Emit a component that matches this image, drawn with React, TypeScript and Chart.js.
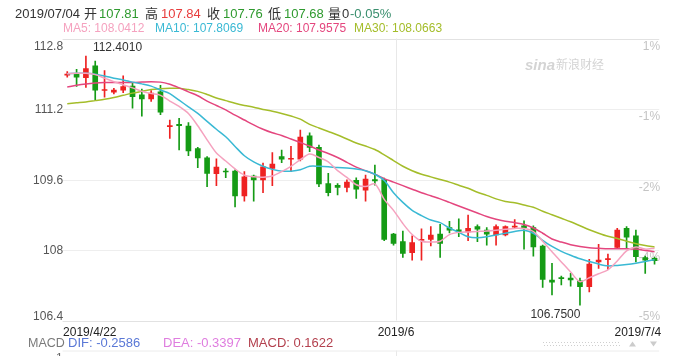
import React, { useEffect, useRef } from "react";
import { Chart, registerables } from "chart.js";

Chart.register(...registerables);

// ---------- data ----------
const dates = [
  "2019/4/22", "2019/4/23", "2019/4/24", "2019/4/25", "2019/4/26", "2019/4/27", "2019/4/29", "2019/4/30",
  "2019/5/1", "2019/5/2", "2019/5/3", "2019/5/4", "2019/5/6", "2019/5/7", "2019/5/8", "2019/5/9",
  "2019/5/10", "2019/5/11", "2019/5/13", "2019/5/14", "2019/5/15", "2019/5/16", "2019/5/17", "2019/5/18",
  "2019/5/20", "2019/5/21", "2019/5/22", "2019/5/23", "2019/5/24", "2019/5/25", "2019/5/27", "2019/5/28",
  "2019/5/29", "2019/5/30", "2019/5/31", "2019/6/1", "2019/6/3", "2019/6/4", "2019/6/5", "2019/6/6",
  "2019/6/7", "2019/6/8", "2019/6/10", "2019/6/11", "2019/6/12", "2019/6/13", "2019/6/14", "2019/6/15",
  "2019/6/17", "2019/6/18", "2019/6/19", "2019/6/20", "2019/6/21", "2019/6/22", "2019/6/24", "2019/6/25",
  "2019/6/26", "2019/6/27", "2019/6/28", "2019/6/29", "2019/7/1", "2019/7/2", "2019/7/3", "2019/7/4",
];

const opens = [
  111.97, 112.01, 111.91, 112.18, 111.62, 111.58, 111.63, 111.72, 111.52, 111.43,
  111.59, 110.80, 110.85, 110.81, 110.30, 110.09, 109.73, 109.79, 109.79, 109.23,
  109.68, 109.59, 109.85, 110.12, 110.06, 110.06, 110.59, 110.33, 109.51, 109.47,
  109.42, 109.58, 109.36, 109.60, 109.60, 108.36, 108.19, 107.94, 108.22, 108.24,
  108.36, 108.51, 108.46, 108.41, 108.53, 108.45, 108.34, 108.34, 108.52, 108.55,
  108.51, 108.09, 107.32, 107.37, 107.36, 107.30, 107.17, 107.73, 107.78, 108.06,
  108.49, 108.32, 107.83, 107.81,
];
const highs = [
  112.05, 112.10, 112.401, 112.29, 112.07, 111.67, 111.95, 111.80, 111.65, 111.62,
  111.74, 110.95, 110.99, 110.89, 110.33, 110.12, 110.07, 109.85, 109.82, 109.78,
  109.70, 109.97, 110.21, 110.27, 110.35, 110.72, 110.66, 110.38, 109.74, 109.51,
  109.59, 109.64, 109.70, 109.93, 109.63, 108.38, 108.43, 108.32, 108.48, 108.53,
  108.58, 108.65, 108.71, 108.79, 108.57, 108.51, 108.57, 108.55, 108.69, 108.66,
  108.55, 108.11, 107.70, 107.41, 107.47, 107.36, 107.79, 108.13, 107.91, 108.49,
  108.53, 108.45, 107.86, 107.84,
];
const lows = [
  111.92, 111.71, 111.69, 111.40, 111.47, 111.54, 111.57, 111.22, 111.04, 111.37,
  111.07, 110.53, 110.27, 110.14, 109.87, 109.44, 109.46, 109.64, 108.98, 109.11,
  109.11, 109.30, 109.46, 109.98, 109.78, 110.02, 110.23, 109.44, 109.23, 109.25,
  109.32, 109.17, 109.11, 109.47, 108.21, 108.11, 107.83, 107.77, 107.77, 108.09,
  107.83, 108.39, 108.30, 108.21, 108.19, 108.11, 108.11, 108.32, 108.49, 108.02,
  107.86, 107.15, 106.98, 107.21, 107.18, 106.75, 107.05, 107.58, 107.56, 108.04,
  108.04, 107.73, 107.47, 107.68,
];
const closes = [
  111.99, 111.92, 112.12, 111.63, 111.64, 111.63, 111.71, 111.48, 111.43, 111.56,
  111.13, 110.82, 110.82, 110.25, 110.09, 109.74, 109.88, 109.77, 109.23, 109.66,
  109.59, 109.89, 109.95, 110.06, 110.08, 110.56, 110.33, 109.50, 109.30, 109.42,
  109.54, 109.38, 109.61, 109.57, 108.24, 108.15, 107.92, 108.17, 108.24, 108.34,
  108.15, 108.45, 108.41, 108.49, 108.47, 108.36, 108.53, 108.53, 108.54, 108.50,
  108.07, 107.33, 107.27, 107.35, 107.32, 107.17, 107.68, 107.77, 107.80, 108.45,
  108.29, 107.85, 107.77, 107.76,
];

const ma5 = [
  112.00, 112.01, 112.01, 111.98, 111.90, 111.82, 111.75, 111.68, 111.60, 111.55,
  111.51, 111.38, 111.26, 111.10, 110.82, 110.50, 110.20, 110.02, 109.84, 109.70,
  109.66, 109.65, 109.68, 109.78, 109.90, 110.05, 110.18, 110.10, 110.00, 109.80,
  109.65, 109.48, 109.44, 109.50, 109.15, 108.90, 108.60, 108.35, 108.20, 108.18,
  108.20, 108.35, 108.40, 108.41, 108.42, 108.43, 108.45, 108.47, 108.49, 108.49,
  108.42, 108.20, 107.96, 107.73, 107.50, 107.28, 107.37, 107.46, 107.55, 107.75,
  107.98, 108.07, 108.02, 108.04,
];
const ma10 = [
  112.00, 112.01, 112.01, 111.99, 111.95, 111.90, 111.86, 111.81, 111.77, 111.72,
  111.63, 111.55, 111.40, 111.25, 111.10, 110.92, 110.74, 110.57, 110.35, 110.14,
  110.00, 109.90, 109.83, 109.79, 109.79, 109.82, 109.90, 109.90, 109.89, 109.87,
  109.86, 109.84, 109.80, 109.72, 109.58, 109.30, 109.08, 108.90, 108.78, 108.68,
  108.62, 108.50, 108.40, 108.30, 108.28, 108.30, 108.34, 108.38, 108.42, 108.45,
  108.38, 108.22, 108.08, 107.97, 107.88, 107.80, 107.74, 107.68, 107.64, 107.65,
  107.67, 107.70, 107.74, 107.78,
];
const ma20 = [
  111.70, 111.74, 111.77, 111.79, 111.80, 111.80, 111.80, 111.80, 111.81, 111.82,
  111.81, 111.76, 111.68, 111.59, 111.50, 111.38, 111.28, 111.18, 111.06, 110.95,
  110.84, 110.74, 110.66, 110.60, 110.52, 110.44, 110.36, 110.27, 110.19, 110.10,
  109.99, 109.88, 109.80, 109.72, 109.62, 109.54, 109.46, 109.38, 109.30, 109.23,
  109.16, 109.08, 109.00, 108.92, 108.84, 108.76, 108.70, 108.65, 108.62, 108.58,
  108.50, 108.38, 108.25, 108.18, 108.12, 108.08, 108.05, 108.04, 108.03, 108.03,
  108.03, 108.02, 107.99, 107.96,
];
const ma30 = [
  111.32, 111.34, 111.36, 111.39, 111.42, 111.46, 111.51, 111.56, 111.60, 111.64,
  111.66, 111.67, 111.67, 111.64, 111.60, 111.53, 111.45, 111.39, 111.33, 111.28,
  111.24, 111.19, 111.15, 111.10, 111.04, 110.97, 110.85, 110.77, 110.69, 110.61,
  110.52, 110.43, 110.36, 110.28, 110.16, 110.03, 109.90, 109.80, 109.72, 109.66,
  109.60, 109.54, 109.47, 109.40, 109.31, 109.24, 109.16, 109.10, 109.07, 109.02,
  108.97, 108.88, 108.80, 108.72, 108.64, 108.55, 108.46, 108.38, 108.31, 108.26,
  108.20, 108.14, 108.10, 108.07,
];

const yTicks = [112.8, 111.2, 109.6, 108, 106.4];
const yTickLabels = ["112.8", "111.2", "109.6", "108", "106.4"];
const pctLabels = ["1%", "-1%", "-2%", "-4%", "-5%"];
const xTickIndex = [0, 35, 63];
const xTickLabels = ["2019/4/22", "2019/6", "2019/7/4"];

const headerDate = "2019/07/04";
const headerNames = ["开", "高", "收", "低", "量"];
const headerValues = ["107.81", "107.84", "107.76", "107.68", "0"];
const headerChange = "-0.05%";
const maNames = ["MA5", "MA10", "MA20", "MA30"];
const maValues = ["108.0412", "107.8069", "107.9575", "108.0663"];
const macdNames = ["DIF", "DEA", "MACD"];
const macdValues = ["-0.2586", "-0.3397", "0.1622"];

// ---------- styles ----------
const FONT = "'Liberation Sans', Arial, 'Noto Sans CJK SC', sans-serif";
const RED = "#ee2222";
const GREEN = "#159b15";
const TXT_GREEN = "#2f9a2f";
const TXT_RED = "#e83c3c";
const MA_COLORS = ["#f5a2bf", "#3ab9d4", "#e4467e", "#a4bd2a"];
const MACD_COLORS = ["#5a78d6", "#df7ddf", "#b3404e"];

const up = closes.map((c, i) => c >= opens[i]);
const candleColors = up.map((u) => (u ? RED : GREEN));

const decor = {
  id: "decor",
  beforeDatasetsDraw(chart: any) {
    const ctx: CanvasRenderingContext2D = chart.ctx;
    const { left, right, top, bottom } = chart.chartArea;
    const ys = chart.scales.y;
    const xs = chart.scales.x;
    ctx.save();
    // horizontal grid
    yTicks.forEach((v, k) => {
      const py = Math.round(ys.getPixelForValue(v)) + 0.5;
      ctx.strokeStyle = k === 0 || k === yTicks.length - 1 ? "#e2e2e2" : "#eeeeee";
      ctx.lineWidth = 1;
      ctx.beginPath();
      ctx.moveTo(left, py);
      ctx.lineTo(right, py);
      ctx.stroke();
    });
    // vertical grid at month boundary
    const gx = Math.round(xs.getPixelForValue(xTickIndex[1]) + 2) + 0.5;
    ctx.strokeStyle = "#e8e8e8";
    ctx.beginPath();
    ctx.moveTo(gx, top);
    ctx.lineTo(gx, bottom);
    ctx.moveTo(gx, bottom + 30);
    ctx.lineTo(gx, bottom + 40);
    ctx.stroke();
    // MACD pane separator
    ctx.strokeStyle = "#ececec";
    ctx.beginPath();
    ctx.moveTo(left, bottom + 30.5);
    ctx.lineTo(right, bottom + 30.5);
    ctx.stroke();

    // right percentage labels
    ctx.font = `12px ${FONT}`;
    ctx.fillStyle = "#c4c4c4";
    ctx.textAlign = "right";
    ctx.textBaseline = "alphabetic";
    yTicks.forEach((v, k) => {
      const py = ys.getPixelForValue(v);
      const by = k === yTicks.length - 1 ? py - 0.5 : py + 11;
      ctx.fillText(pctLabels[k], right + 1, by);
    });

    // watermark
    ctx.fillStyle = "#d4d4d4";
    ctx.textAlign = "left";
    ctx.font = `italic bold 15px ${FONT}`;
    ctx.fillText("sina", 525, 70);
    ctx.font = `12px ${FONT}`;
    ctx.fillText("新浪财经", 556, 69);
    ctx.restore();
  },
  afterDatasetsDraw(chart: any) {
    const ctx: CanvasRenderingContext2D = chart.ctx;
    const { left, right, bottom } = chart.chartArea;
    const ys = chart.scales.y;
    const xs = chart.scales.x;
    ctx.save();
    ctx.textBaseline = "alphabetic";

    // left y labels
    ctx.font = `12px ${FONT}`;
    ctx.fillStyle = "#555555";
    ctx.textAlign = "right";
    yTicks.forEach((v, k) => {
      const py = ys.getPixelForValue(v);
      let by = py + 4.3;
      if (k === 0) by = py + 11;
      if (k === yTicks.length - 1) by = py - 1;
      ctx.fillText(yTickLabels[k], left + 0.5, by);
    });

    // x labels
    ctx.fillStyle = "#222222";
    xTickIndex.forEach((idx, k) => {
      const px = xs.getPixelForValue(idx);
      if (k === 0) {
        ctx.textAlign = "left";
        ctx.fillText(xTickLabels[k], left + 0.5, bottom + 15);
      } else if (k === xTickIndex.length - 1) {
        ctx.textAlign = "right";
        ctx.fillText(xTickLabels[k], right + 2, bottom + 15);
      } else {
        ctx.textAlign = "center";
        ctx.fillText(xTickLabels[k], px + 2.5, bottom + 15);
      }
    });

    // high / low annotations
    let hi = 0;
    let lo = 0;
    highs.forEach((h, i) => { if (h > highs[hi]) hi = i; });
    lows.forEach((l, i) => { if (l < lows[lo]) lo = i; });
    ctx.fillStyle = "#333333";
    ctx.font = `12px ${FONT}`;
    ctx.textAlign = "left";
    ctx.fillText(highs[hi].toFixed(4), xs.getPixelForValue(hi) + 7, ys.getPixelForValue(highs[hi]) - 5);
    ctx.textAlign = "right";
    ctx.fillText(lows[lo].toFixed(4), xs.getPixelForValue(lo) + 0.5, ys.getPixelForValue(lows[lo]) + 13);

    // header line 1
    ctx.textAlign = "left";
    ctx.font = `13px ${FONT}`;
    const hx = [15, 84, 145, 207, 268, 328];
    const vx = [99, 161, 223, 284, 342];
    const vColors = [TXT_GREEN, TXT_RED, TXT_GREEN, TXT_GREEN, "#333333"];
    ctx.fillStyle = "#333333";
    ctx.fillText(headerDate, hx[0], 17.6);
    headerNames.forEach((n, k) => {
      ctx.fillStyle = "#333333";
      ctx.fillText(n, hx[k + 1], 17.6);
      ctx.fillStyle = vColors[k];
      ctx.fillText(headerValues[k], vx[k], 17.6);
    });
    ctx.fillStyle = "#3a8f6e";
    ctx.fillText(headerChange, 350, 17.6);

    // header line 2
    ctx.font = `12px ${FONT}`;
    const mx = [63, 155, 258, 354];
    maNames.forEach((n, k) => {
      ctx.fillStyle = MA_COLORS[k];
      ctx.fillText(`${n}: ${maValues[k]}`, mx[k], 32.3);
    });

    // MACD row
    ctx.font = `12.5px ${FONT}`;
    ctx.fillStyle = "#7a7a7a";
    ctx.fillText("MACD", 28, 347);
    ctx.font = `13px ${FONT}`;
    const dx = [68, 163, 248];
    macdNames.forEach((n, k) => {
      ctx.fillStyle = MACD_COLORS[k];
      ctx.fillText(`${n}: ${macdValues[k]}`, dx[k], 347);
    });
    ctx.font = `12px ${FONT}`;
    ctx.fillStyle = "#666666";
    ctx.textAlign = "right";
    ctx.fillText("1", left, 362);

    // scroll bar (dotted) and arrows
    ctx.strokeStyle = "#cfcfcf";
    ctx.lineWidth = 1;
    ctx.setLineDash([1, 2]);
    ctx.beginPath();
    ctx.moveTo(543, 342.5);
    ctx.lineTo(621, 342.5);
    ctx.moveTo(544, 345.5);
    ctx.lineTo(621, 345.5);
    ctx.stroke();
    ctx.setLineDash([]);
    ctx.fillStyle = "#cccccc";
    ctx.beginPath();
    ctx.moveTo(632.5, 341.5);
    ctx.lineTo(636, 346.5);
    ctx.lineTo(629, 346.5);
    ctx.closePath();
    ctx.fill();
    ctx.beginPath();
    ctx.moveTo(650, 341.5);
    ctx.lineTo(657, 341.5);
    ctx.lineTo(653.5, 346.5);
    ctx.closePath();
    ctx.fill();

    ctx.restore();
  },
};

export default function App() {
  const ref = useRef<HTMLCanvasElement | null>(null);

  useEffect(() => {
    const canvas = ref.current;
    if (!canvas) return;
    const lineDs = [ma5, ma10, ma20, ma30].map((d, k) => ({
      type: "line" as const,
      label: maNames[k],
      data: d,
      borderColor: MA_COLORS[k],
      backgroundColor: MA_COLORS[k],
      borderWidth: 1.5,
      pointRadius: 0,
      tension: 0.3,
      fill: false,
      order: 0,
    }));
    const chart = new Chart(canvas, {
      type: "bar",
      data: {
        labels: dates,
        datasets: [
          ...lineDs,
          {
            type: "bar" as const,
            label: "body",
            data: opens.map((o, i) => [Math.min(o, closes[i]), Math.max(o, closes[i])]),
            backgroundColor: candleColors,
            borderWidth: 0,
            barThickness: 5,
            minBarLength: 1,
            grouped: false,
            order: 1,
          } as any,
          {
            type: "bar" as const,
            label: "wick",
            data: lows.map((l, i) => [l, highs[i]]),
            backgroundColor: candleColors,
            borderWidth: 0,
            barThickness: 1,
            grouped: false,
            order: 2,
          } as any,
        ],
      },
      options: {
        animation: false,
        responsive: false,
        maintainAspectRatio: false,
        devicePixelRatio: 1,
        layout: { padding: { left: 62.6, right: 32.8, top: 38.5, bottom: 35.5 } },
        plugins: { legend: { display: false }, tooltip: { enabled: false } },
        scales: {
          x: { type: "category", display: false, offset: true, grid: { display: false } },
          y: { type: "linear", display: false, min: 106.4, max: 112.8 },
        },
      },
      plugins: [decor],
    });
    return () => chart.destroy();
  }, []);

  return (
    <div style={{ position: "absolute", left: 0, top: 0, width: 692, height: 356, background: "#ffffff" }}>
      <canvas ref={ref} width={692} height={356} style={{ width: 692, height: 356, display: "block" }} />
    </div>
  );
}
